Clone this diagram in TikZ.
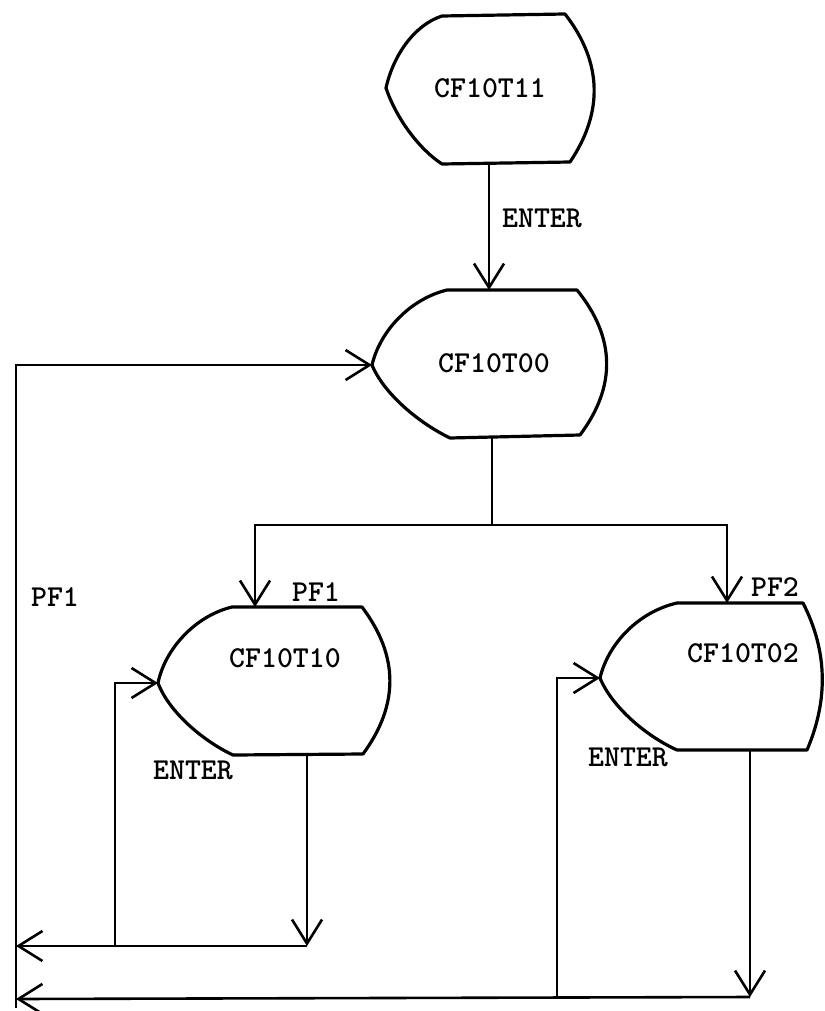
\documentclass[tikz,border=0pt]{standalone}
\usetikzlibrary{arrows.meta}
\begin{document}
\begin{tikzpicture}[x=0.5pt,y=-0.5pt,
  shp/.style={line width=1.6pt,line join=round},
  conn/.style={line width=1.3pt},
  arr/.style={conn,-{Straight Barb[length=12pt,width=15pt,line width=1.3pt]}},
  lbl/.style={font=\fontsize{15.2}{18}\ttfamily\bfseries,inner sep=0pt}]
\useasboundingbox (0,0) rectangle (824,1011);
% shapes
\draw[shp] (442,16) -- (565,14) .. controls (603,63) and (603,113) .. (570,162)
  -- (442,164) .. controls (419,149) and (396,118) .. (386,88)
  .. controls (393,56) and (414,25) .. (442,16) -- cycle;
\draw[shp] (447,290) -- (577,290) .. controls (616,338) and (616,387) .. (580,435)
  -- (450,438) .. controls (419,423) and (384,394) .. (372,365)
  .. controls (380,331) and (410,299) .. (447,290) -- cycle;
\draw[shp] (232,607) -- (362,607) .. controls (399,656) and (399,705) .. (363,754)
  -- (233,755) .. controls (203,741) and (169,712) .. (158,683)
  .. controls (165,649) and (195,616) .. (232,607) -- cycle;
\draw[shp] (677,603) -- (803,603) .. controls (828,652) and (828,701) .. (807,750)
  -- (677,750) .. controls (646,736) and (612,707) .. (600,678)
  .. controls (608,644) and (638,612) .. (677,603) -- cycle;
% texts
\node[lbl] (t1) at (490,88) {CF10T11};
\node[lbl] (t2) at (494,363) {CF10T00};
\node[lbl] (t3) at (285,658) {CF10T10};
\node[lbl] (t4) at (743,653) {CF10T02};
\node[lbl] (l1) at (542,218) {ENTER};
\node[lbl] (l2) at (316,592) {PF1};
\node[lbl] (l3) at (775,587) {PF2};
\node[lbl] (l4) at (55,597) {PF1};
\node[lbl] (l5) at (193,770) {ENTER};
\node[lbl] (l6) at (628,757) {ENTER};
% anchor coordinates
\coordinate (s1b) at (489,164);
\coordinate (s2t) at (489,290);
\coordinate (s2b) at (492,438);
\coordinate (s2p) at (372,365);
\coordinate (j1) at (492,525);
\coordinate (s3t) at (255,607);
\coordinate (s3p) at (158,683);
\coordinate (s3b) at (307,755);
\coordinate (s4t) at (727,603);
\coordinate (s4p) at (600,678);
\coordinate (s4b) at (750,750);
\coordinate (d1) at (307,946);
\coordinate (d2) at (750,997);
\coordinate (L1) at (16,946);
\coordinate (L2) at (16,999);
\coordinate (Lb) at (16,1008);
\coordinate (e1) at (115,946);
\coordinate (e2) at (557,998);
% connectors
\draw[arr] (s1b) -- (s2t);
\draw[conn] (s2b) -- (j1);
\draw[arr] (j1) -| (s3t);
\draw[arr] (j1) -| (s4t);
\draw[arr] (Lb) |- (s2p);
\draw[arr] (s3b) -- (d1);
\draw[arr] (d1) -- (L1);
\draw[arr] (e1) |- (s3p);
\draw[arr] (s4b) -- (d2);
\draw[arr] (d2) -- (L2);
\draw[arr] (e2) |- (s4p);
\end{tikzpicture}
\end{document}
